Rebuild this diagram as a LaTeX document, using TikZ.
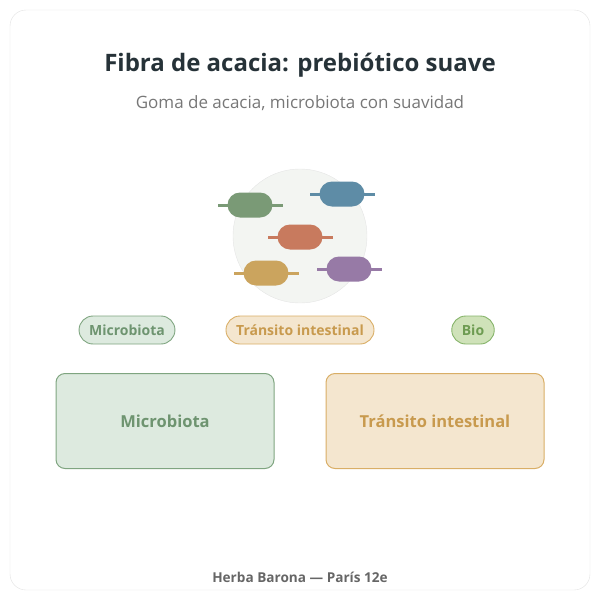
\documentclass[tikz,border=0pt]{standalone}
\usepackage{fontspec}
\setmainfont{Open Sans}
\usetikzlibrary{shapes.misc}
\definecolor{gfill}{HTML}{DDEADF}\definecolor{gline}{HTML}{7FA580}\definecolor{gtext}{HTML}{6E9470}
\definecolor{yfill}{HTML}{F4E6CF}\definecolor{yline}{HTML}{D9AE66}\definecolor{ytext}{HTML}{C89A4E}
\definecolor{bfill}{HTML}{CFE2B9}\definecolor{bline}{HTML}{86B46A}\definecolor{btext}{HTML}{6E9C52}
\definecolor{bgreen}{HTML}{7A9A76}\definecolor{bblue}{HTML}{5E8CA6}\definecolor{borange}{HTML}{C87A5E}
\definecolor{byellow}{HTML}{CBA45E}\definecolor{bpurple}{HTML}{977AA6}
\begin{document}
\begin{tikzpicture}[x=1pt,y=-1pt,
	tag/.style={rounded rectangle,draw=#1line,fill=#1fill,text=#1text,line width=0.9pt,
		minimum height=28pt,font=\bfseries\fontsize{14}{16}\selectfont,inner xsep=9pt},
	card/.style={draw=#1line,fill=#1fill,text=#1text,rounded corners=9pt,line width=1pt,
		minimum width=218pt,minimum height=95pt,font=\bfseries\fontsize{16.5}{19}\selectfont},
	bug/.style={rounded rectangle,fill=#1,minimum width=45pt,minimum height=25pt,inner sep=0pt}]
	\useasboundingbox (0,0) rectangle (600,600);
	\draw[black!12,rounded corners=16pt] (10,10) rectangle (590,590);
	\node (title) at (300,65) {\bfseries\fontsize{24}{28}\selectfont\color[HTML]{263238}Fibra de acacia: prebiótico suave};
	\node (sub) at (300,103) {\fontsize{17}{20}\selectfont\color[HTML]{777777}Goma de acacia, microbiota con suavidad};
	\node[circle,draw=black!10,fill={rgb,255:red,243;green,245;blue,242},minimum size=134pt] (plate) at (300,236) {};
	\foreach \name/\col/\cx/\cy in {g/bgreen/250/205,b/bblue/342/194,o/borange/300/237,y/byellow/266/273,p/bpurple/349/269}{
		\draw[\col,line width=3pt] (\cx-32,\cy) -- (\cx+33,\cy);
		\node[bug=\col] (\name) at (\cx,\cy) {};
	}
	\node[tag=g] (t1) at (127,330) {Microbiota};
	\node[tag=y] (t2) at (300,330) {Tránsito intestinal};
	\node[tag=b] (t3) at (473,330) {Bio};
	\node[card=g] (c1) at (165,421) {Microbiota};
	\node[card=y] (c2) at (435,421) {Tránsito intestinal};
	\node (foot) at (300,577) {\bfseries\fontsize{13.6}{16}\selectfont\color[HTML]{666666}Herba Barona — París 12e};
\end{tikzpicture}
\end{document}
